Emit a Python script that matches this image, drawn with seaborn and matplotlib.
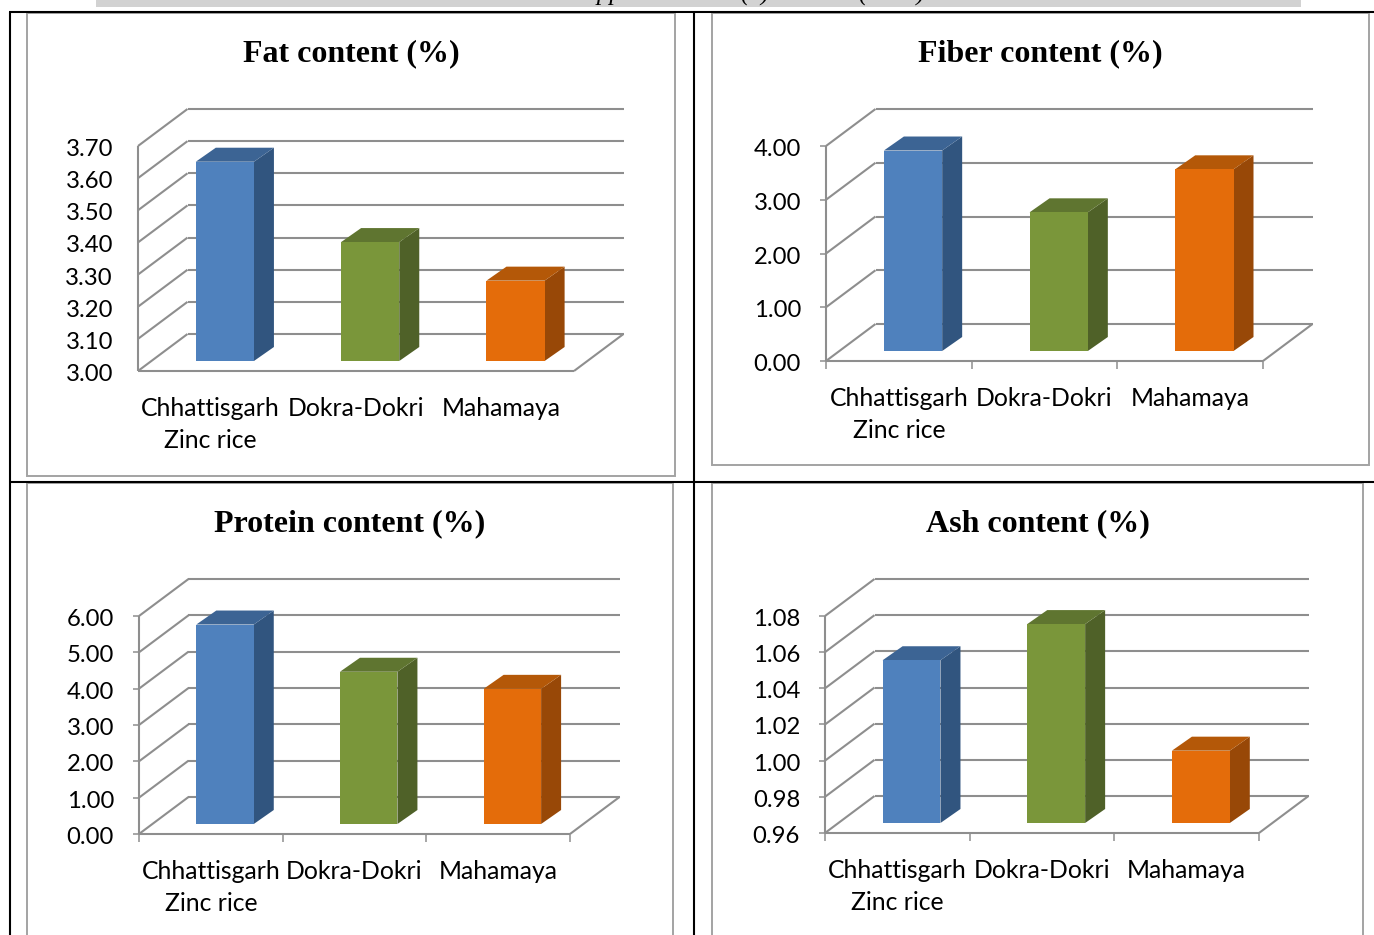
import numpy as np
import pandas as pd
import seaborn as sns
import matplotlib.pyplot as plt
from matplotlib.patches import Polygon, Rectangle
from matplotlib.transforms import ScaledTranslation

categories = ['Chhattisgarh\nZinc rice', 'Dokra-Dokri', 'Mahamaya']

fat = [3.62, 3.37, 3.25]
fiber = [3.73, 2.58, 3.38]
protein = [5.49, 4.19, 3.72]
ash = [1.05, 1.07, 1.00]

fat_ticks = [3.00, 3.10, 3.20, 3.30, 3.40, 3.50, 3.60, 3.70]
fiber_ticks = [0.00, 1.00, 2.00, 3.00, 4.00]
protein_ticks = [0.00, 1.00, 2.00, 3.00, 4.00, 5.00, 6.00]
ash_ticks = [0.96, 0.98, 1.00, 1.02, 1.04, 1.06, 1.08]

front = ['#4F81BD', '#7A963A', '#E46C0A']
side = ['#31557F', '#4F6128', '#984807']
top = ['#3C6494', '#5F7530', '#B45808']
grid_col = '#8E8E8E'
frame_col = '#A3A3A3'

W, H = 1374, 935

sns.set_theme(style='white')
plt.rcParams['font.family'] = ['Lato', 'DejaVu Sans']

fig = plt.figure(figsize=(W / 100, H / 100), dpi=100)

# page layer in pixel units: running header, table rules, chart frames
page = fig.add_axes([0, 0, 1, 1], zorder=0)
page.set_xlim(0, W)
page.set_ylim(H, 0)
page.axis('off')

page.add_patch(Rectangle((96, 0), 1205, 6.8, color='#D2D2D2', lw=0))
# the header is cut by the top of the page in the reference too
for x, txt in [(118, 'Tara et al.'), (478, 'Int.J.Curr.App.Sci'), (740, '(9)'), (858, '(2020)'), (1115, 'ISSN: 2319-7706')]:
    page.text(x, 0.3, txt, family='Liberation Serif', style='italic', fontsize=18, va='baseline', color='black')

for xs, ys in [([9, 1374], [12, 12]), ([9, 1374], [481.5, 481.5]), ([9.5, 9.5], [12, 935]), ([694, 694], [12, 935])]:
    page.plot(xs, ys, color='black', lw=1.5, solid_capstyle='butt')

for x0, y0, x1, y1 in [(27, 13, 675, 476), (712, 13, 1369, 465), (27, 483, 673, 945), (712, 483, 1363, 945)]:
    page.add_patch(Rectangle((x0, y0), x1 - x0, y1 - y0, fill=False, ec=frame_col, lw=1.4))


def panel(title, title_x, title_y, values, ticks, x0, x1, y_bot, y_top, tick_marks):
    ax = fig.add_axes([x0 / W, 1 - y_bot / H, (x1 - x0) / W, (y_bot - y_top) / H], zorder=2)
    ax.patch.set_alpha(0)
    df = pd.DataFrame({'sample': categories, 'value': values})
    sns.barplot(data=df, x='sample', y='value', hue='sample', palette=front, width=0.4,
                legend=False, saturation=1, linewidth=0, ax=ax)

    lo, hi = ticks[0], ticks[-1]
    ax.set_xlim(-0.5, 2.5)
    ax.set_ylim(lo, hi)
    ax.set_xlabel('')
    ax.set_ylabel('')
    sns.despine(ax=ax, left=True, bottom=True, right=True, top=True)

    # px to data units, walls and bars are drawn with these offsets
    ux = 3 / (x1 - x0)
    uy = (hi - lo) / (y_bot - y_top)
    wall_dx, wall_dy = 49.5 * ux, 37 * uy
    bar_dx, bar_dy = 14.2 * ux, 10 * uy
    d_dx, d_dy = 20 * ux, 14 * uy

    line = dict(color=grid_col, lw=1.5, clip_on=False, zorder=1, solid_capstyle='butt')
    for t in ticks:
        ax.plot([-0.5, -0.5 + wall_dx], [t, t + wall_dy], **line)
        ax.plot([-0.5 + wall_dx, 2.5 + wall_dx], [t + wall_dy, t + wall_dy], **line)
    ax.plot([-0.5, -0.5], [lo, hi], **line)
    ax.plot([-0.5, 2.5], [lo, lo], **line)
    ax.plot([2.5, 2.5 + wall_dx], [lo, lo + wall_dy], **line)

    for i, p in enumerate(ax.patches):
        v = p.get_height()
        left = p.get_x() + bar_dx
        w = p.get_width()
        p.set_x(left)
        p.set_y(lo + bar_dy)
        p.set_height(v - lo)
        p.set_clip_on(False)
        p.set_zorder(4)
        roof = v + bar_dy
        base = lo + bar_dy
        ax.add_patch(Polygon([(left + w, base), (left + w + d_dx, base + d_dy),
                              (left + w + d_dx, roof + d_dy), (left + w, roof)],
                             color=side[i], lw=0, clip_on=False, zorder=3))
        ax.add_patch(Polygon([(left, roof), (left + d_dx, roof + d_dy),
                              (left + w + d_dx, roof + d_dy), (left + w, roof)],
                             color=top[i], lw=0, clip_on=False, zorder=3))

    ax.set_yticks(ticks)
    ax.set_yticklabels([f'{t:.2f}' for t in ticks])
    ax.set_xticks([0, 1, 2])
    ax.set_xticklabels(categories)
    ax.set_xticks([-0.5, 0.5, 1.5, 2.5], minor=True)
    mark = 1 if tick_marks else 0
    ax.tick_params(axis='y', which='major', left=True, length=4.5 * mark, width=1.1, color=grid_col,
                   pad=18 - 4.5 * mark, labelsize=17.2, labelcolor='black')
    ax.tick_params(axis='x', which='major', bottom=False, length=0, pad=18.5,
                   labelsize=17.8, labelcolor='black')
    ax.tick_params(axis='x', which='minor', bottom=bool(mark), length=6, width=1.1, color=grid_col)
    for lab in ax.get_xticklabels():
        lab.set_linespacing(1.5)
    # y labels sit a little under their gridline
    nudge = ScaledTranslation(0, -1.5 / 100, fig.dpi_scale_trans)
    for tick in ax.yaxis.get_major_ticks():
        tick.label1.set_transform(tick.label1.get_transform() + nudge)

    page.text(title_x, title_y + 2, title, family='Liberation Serif', weight='bold', fontsize=23,
              ha='center', va='center', color='black')


panel('Fat content (%)', 351, 52, fat, fat_ticks, 138, 574, 371, 146, False)
panel('Fiber content (%)', 1040, 52, fiber, fiber_ticks, 826, 1263, 361, 146, True)
panel('Protein content (%)', 350, 522, protein, protein_ticks, 139, 570, 834, 616, True)
panel('Ash content (%)', 1038, 522, ash, ash_ticks, 825, 1259, 833, 616, True)

fig.savefig('out.png', dpi=100, facecolor='white')
plt.close()
